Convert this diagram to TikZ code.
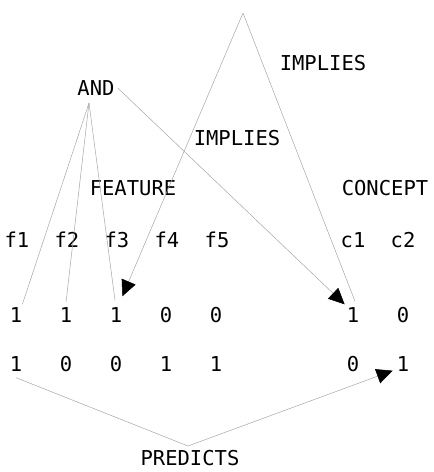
\documentclass[tikz,border=0pt]{standalone}
\usepackage{fontspec}
\usepackage{tikz}
\usetikzlibrary{arrows.meta}
\newfontfamily\monofont{DejaVu Sans Mono}

\begin{document}
\begin{tikzpicture}[x=1pt, y=-1pt,
  txt/.style={font=\monofont\fontsize{20.5}{24}\selectfont, inner sep=3pt},
  link/.style={draw=black!35, line width=0.5pt},
  tip/.style={-{Triangle[length=16pt, width=15pt, color=black]}}]
\useasboundingbox (0,0) rectangle (434,472);

\node[txt] (and) at (96,88) {AND};
\node[txt] (impl1) at (323,63) {IMPLIES};
\node[txt] (impl2) at (237,138) {IMPLIES};
\node[txt] (feat) at (133,188) {FEATURE};
\node[txt] (conc) at (385,188) {CONCEPT};
\node[txt] (pred) at (190,458) {PREDICTS};

\node[txt] (f1) at (17,240) {f1};
\node[txt] (f2) at (67,240) {f2};
\node[txt] (f3) at (117,240) {f3};
\node[txt] (f4) at (167,240) {f4};
\node[txt] (f5) at (217,240) {f5};
\node[txt] (c1) at (353,240) {c1};
\node[txt] (c2) at (403,240) {c2};

% first row
\node[txt] (a1) at (16,315) {1};
\node[txt] (a2) at (66,315) {1};
\node[txt] (a3) at (116,315) {1};
\node[txt] (a4) at (166,315) {0};
\node[txt] (a5) at (216,315) {0};
\node[txt] (a6) at (353,315) {1};
\node[txt] (a7) at (403,315) {0};

% second row
\node[txt] (b1) at (16,364) {1};
\node[txt] (b2) at (66,364) {0};
\node[txt] (b3) at (116,364) {0};
\node[txt] (b4) at (166,364) {1};
\node[txt] (b5) at (216,364) {1};
\node[txt] (b6) at (353,364) {0};
\node[txt] (b7) at (403,364) {1};

\coordinate (top) at (243,13);
\coordinate (andfoot) at (89,103);
\coordinate (low) at (188,446);

\draw[link] (andfoot) -- ([xshift=-3pt]a1.north east);
\draw[link] (andfoot) -- ([yshift=2pt]a2.north);
\draw[link] (andfoot) -- ([xshift=-1pt, yshift=4pt]a3.north);
\draw[link, tip] (and.east) -- ([xshift=1pt]a6.north west);
\draw[link, tip] (top) -- ([xshift=-3pt, yshift=8pt]a3.north east);
\draw[link] (top) -- ([xshift=2pt, yshift=3pt]a6.north);
\draw[link, tip] ([yshift=-3pt]b1.south) -- (low) -- ([xshift=-1pt, yshift=4pt]b7.south west);
\end{tikzpicture}
\end{document}
